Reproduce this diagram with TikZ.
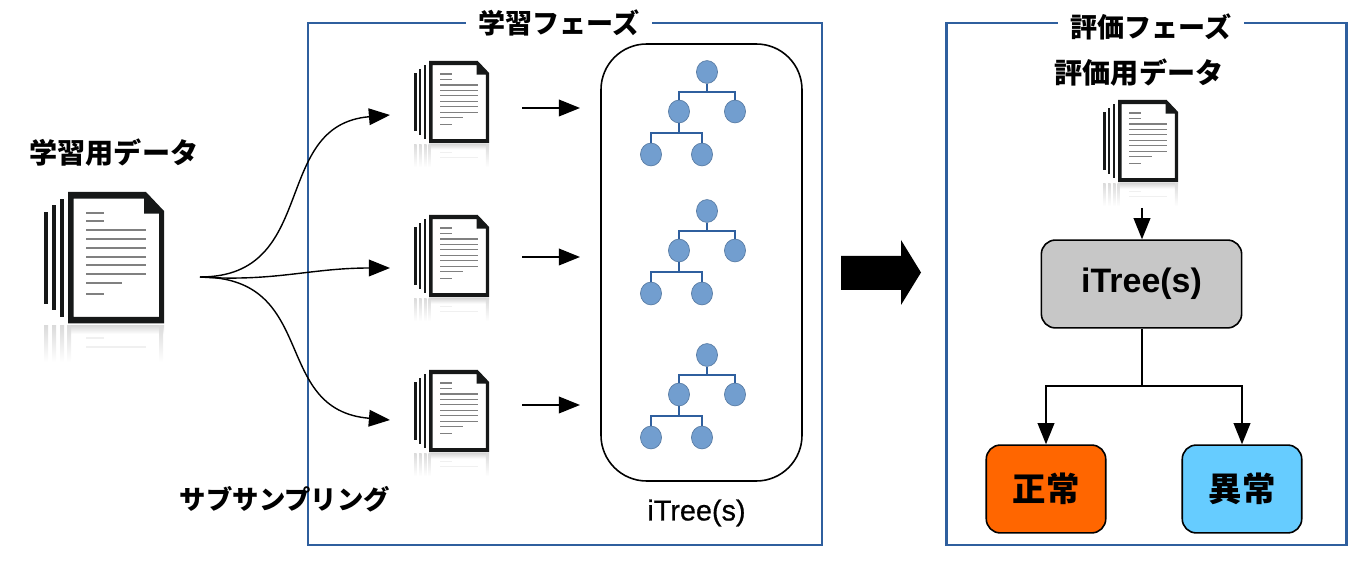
\documentclass[tikz,border=0pt]{standalone}
\usepackage{fontspec}
\newfontfamily\jpfont{Noto Sans CJK JP}
\setsansfont{Liberation Sans}
\newfontfamily\treefont[FakeBold=0.7]{Liberation Sans}
\usetikzlibrary{calc, positioning}
\usetikzlibrary{arrows.meta}
\usetikzlibrary{shapes.geometric}
\definecolor{framecol}{HTML}{2F5F9E}
\definecolor{treefill}{HTML}{729ECF}
\definecolor{treeline}{HTML}{2F5F9E}
\definecolor{doccol}{HTML}{161818}
\definecolor{normalcol}{HTML}{FF6600}
\definecolor{abnormalcol}{HTML}{66CCFF}
\tikzset{
  jplabel/.style={inner sep=1pt,font=\jpfont\bfseries\fontsize{16}{18}\selectfont},
  frametitle/.style={inner sep=1pt,font=\jpfont\bfseries\fontsize{15.4}{18}\selectfont,
    fill=white,inner xsep=7pt,inner ysep=0pt},
  phaseframe/.style={draw=framecol,line width=1.7pt},
  flow/.style={line width=0.8pt,-{Triangle[length=12pt,width=9.5pt]}},
  treedot/.style={ellipse,draw=treefill!80!black,fill=treefill,line width=0.4pt,
    minimum width=12pt,minimum height=13pt,inner sep=0pt},
  resultbox/.style={draw=black,line width=0.9pt,rounded corners=8pt,
    minimum width=68pt,minimum height=50pt,inner sep=0pt,
    font=\jpfont\bfseries\fontsize{19}{22}\selectfont},
  doc/.pic={
    \fill[doccol,even odd rule] (0,0) -- (78,0) -- (96,19) -- (96,131.5) -- (0,131.5) -- cycle
      (5.7,6.7) -- (76,6.7) -- (76,21.7) -- (91,21.7) -- (91,125) -- (5.7,125) -- cycle;
    \fill[doccol] (-8,6.7) rectangle (-4.3,125);
    \fill[doccol] (-16,13.3) rectangle (-12.3,118);
    \fill[doccol] (-24,20) rectangle (-20,111.7);
    \foreach \y/\xend in {20.7/36,29.3/36,38.3/78,47/78,55.7/78,64.7/78,73.3/78,82/78,90.7/54,101.7/36}
      \fill[black!50] (18,\y-1) rectangle (\xend,\y+1);
    \fill[top color=black!14,bottom color=white] (0,134) rectangle (96,142);
    \foreach \x in {-24,-16,-8,-1,91}
      \fill[top color=black!14,bottom color=white] (\x,134) rectangle (\x+4,170);
    \foreach \y/\xend in {146/36,155/78}
      \fill[black!6] (18,\y-0.8) rectangle (\xend,\y+0.8);
  },
  itreepic/.pic={
    \node[treedot] (root) at (0,0) {};
    \node[treedot] (left) at (-28,39.5) {};
    \node[treedot] (right) at (28,39.5) {};
    \node[treedot] (leafa) at (-56,82.5) {};
    \node[treedot] (leafb) at (-5,82.5) {};
    \coordinate (forka) at (0,20);
    \coordinate (forkb) at (-28,61);
    \draw[treeline,line width=0.6pt] (root) -- (forka);
    \draw[treeline,line width=0.6pt] (forka) -| (left);
    \draw[treeline,line width=0.6pt] (forka) -| (right);
    \draw[treeline,line width=0.6pt] (left) -- (forkb);
    \draw[treeline,line width=0.6pt] (forkb) -| (leafa);
    \draw[treeline,line width=0.6pt] (forkb) -| (leafb);
  }
}
\begin{document}
\begin{tikzpicture}[x=0.02cm,y=-0.02cm,line cap=butt,line join=miter]
\path[use as bounding box] (0,0) rectangle (1357,567);

\draw[phaseframe] (308,23) rectangle (822,545);
\draw[phaseframe] (946,23) rectangle (1346,545);
\node[frametitle] (learntitle) at (559,23) {学習フェーズ};
\node[frametitle] (evaltitle) at (1151,27) {評価フェーズ};

\node[jplabel] (trainlabel) at (114,153) {学習用データ};
\node[jplabel,font=\jpfont\bfseries\fontsize{15}{18}\selectfont] (sublabel) at (285,499) {サブサンプリング};
\node[jplabel] (evallabel) at (1139,73) {評価用データ};
\node[inner sep=1pt,font=\treefont\fontsize{16.4}{18}\selectfont] (treelabel) at (696.5,513) {iTree(s)};

\pic[scale=1] at (68,192) {doc};
\foreach \y in {61,215,370}
  \pic[scale=0.625] at (429,\y) {doc};
\pic[scale=0.625] at (1118,100) {doc};

\draw[line width=0.9pt,rounded corners=26pt] (601,44) rectangle (802,481);
\foreach \n/\y in {a/72,b/211,c/355}
  \pic (tree\n) at (707,\y) {itreepic};

\coordinate (src) at (200,277);
\coordinate (suba) at (390,115);
\coordinate (subb) at (390,268);
\coordinate (subc) at (390,420);
\draw[flow] (src) .. controls (320,277) and (270,125) .. (suba);
\draw[flow] (src) .. controls (275,282) and (310,268) .. (subb);
\draw[flow] (src) .. controls (320,277) and (270,410) .. (subc);

\foreach \n/\y in {a/108,b/257,c/405}{
  \coordinate (from\n) at (522,\y);
  \coordinate (to\n) at (580,\y);
  \draw[flow] (from\n) -- (to\n);
}

\fill[black] (841,256) -- (901,256) -- (901,240) -- (921,272.5) -- (901,305) -- (901,290) -- (841,290) -- cycle;

\node[resultbox,fill=black!22,minimum width=114pt,font=\sffamily\bfseries\fontsize{19.3}{22}\selectfont] (itree) at (1141.5,284) {\raisebox{-1.5pt}{iTree(s)}};
\node[resultbox,fill=normalcol] (normal) at (1046,489) {正常};
\node[resultbox,fill=abnormalcol] (abnormal) at (1242,489) {異常};

\coordinate (evaldoc) at (1142,208);
\draw[flow] (evaldoc) -- (itree.north -| evaldoc);
\coordinate (branch) at (1142,386);
\draw[line width=0.8pt] (itree.south -| branch) -- (branch);
\draw[flow] (branch) -| (normal.north);
\draw[flow] (branch) -| (abnormal.north);
\end{tikzpicture}
\end{document}
